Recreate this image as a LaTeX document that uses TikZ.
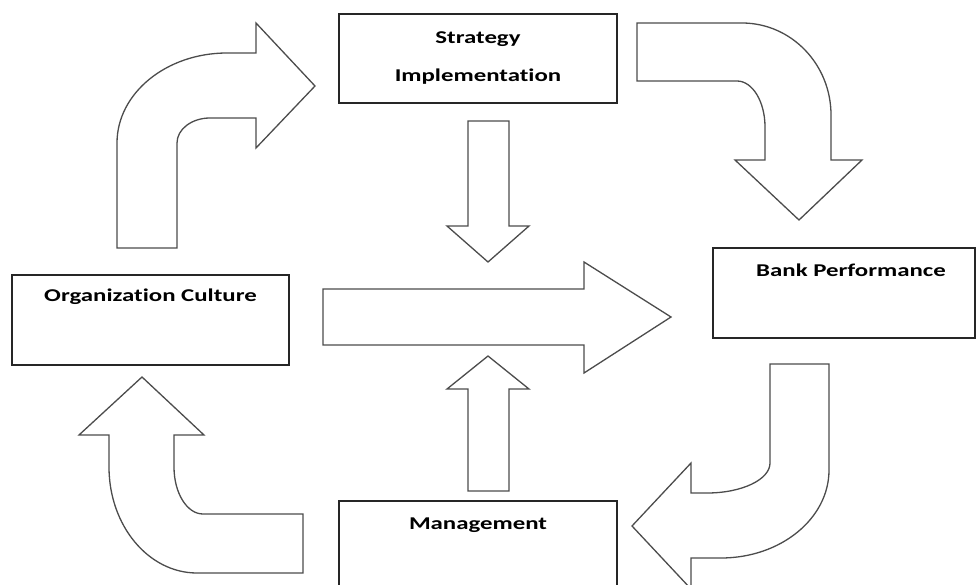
\documentclass[tikz,border=0pt]{standalone}
\usepackage{fontspec}
\setmainfont{Carlito}
\newfontfamily\boxfont[FakeStretch=1.38, Ligatures=NoCommon]{Carlito}

\begin{document}
\begin{tikzpicture}[x=1pt, y=-1pt, line join=miter,
  box/.style={draw=black!85, line width=1.3pt, minimum width=278pt,
    minimum height=89pt, inner sep=0pt},
  lbl/.style={font=\boxfont\bfseries\fontsize{18}{38}\selectfont,
    align=center, anchor=base},
  blockarrow/.style={draw=black!70, line width=1.3pt, fill=white}]
  \useasboundingbox (0,0) rectangle (976,585);
  % boxes
  \node[box] (strat) at (478,58.5) {};
  \node[box, minimum width=277pt, minimum height=90pt] (org) at (150.5,320) {};
  \node[box, minimum width=262pt, minimum height=90pt] (bank) at (844,293) {};
  \node[box, minimum height=90pt] (mgmt) at (478,546) {};
  % labels (base = last line)
  \node[lbl] (strat-text) at ([yshift=-68pt]strat.north) {Strategy\\Implementation};
  \node[lbl] (org-text) at ([yshift=-27pt]org.north) {Organization Culture};
  \node[lbl] (bank-text) at ([xshift=7pt, yshift=-29pt]bank.north) {Bank Performance};
  \node[lbl] (mgmt-text) at ([yshift=-29pt]mgmt.north) {Management};
  % bent arrow, top left
  \draw[blockarrow] (117,248) -- (117,143)
    arc[start angle=180, end angle=270, x radius=110, y radius=90]
    -- (256,53) -- (256,23) -- (315,86) -- (256,148) -- (256,118) -- (210,118)
    arc[start angle=270, end angle=180, x radius=33, y radius=25]
    -- (177,248) -- cycle;
  % bent arrow, top right
  \draw[blockarrow] (637,23) -- (742,23)
    arc[start angle=270, end angle=360, x radius=89, y radius=92]
    -- (831,160) -- (862,160) -- (799,220) -- (735,160) -- (765,160) -- (765,127)
    arc[start angle=0, end angle=-90, x radius=28, y radius=46]
    -- (637,81) -- cycle;
  % bent arrow, bottom right
  \draw[blockarrow] (770,364) -- (829,364) -- (829,470)
    arc[start angle=0, end angle=90, x radius=108, y radius=88]
    -- (691,558) -- (691,589) -- (632,526) -- (691,463) -- (691,493) -- (707,493)
    arc[start angle=90, end angle=0, x radius=63, y radius=30]
    -- cycle;
  % bent arrow, bottom left
  \draw[blockarrow] (303,514) -- (303,573) -- (197,573)
    arc[start angle=90, end angle=180, x radius=88, y radius=106]
    -- (109,435) -- (79,435) -- (142,377) -- (204,435) -- (174,435) -- (174,467)
    arc[start angle=180, end angle=90, x radius=29, y radius=47]
    -- cycle;
  % straight arrows in the middle
  \draw[blockarrow] (468,121) -- (509,121) -- (509,226) -- (529,226) -- (488,262)
    -- (447,226) -- (468,226) -- cycle;
  \draw[blockarrow] (468,491) -- (468,389) -- (447,389) -- (488,356) -- (529,389)
    -- (509,389) -- (509,491) -- cycle;
  \draw[blockarrow] (323,289) -- (584,289) -- (584,262) -- (671,317) -- (584,373)
    -- (584,345) -- (323,345) -- cycle;
\end{tikzpicture}
\end{document}
